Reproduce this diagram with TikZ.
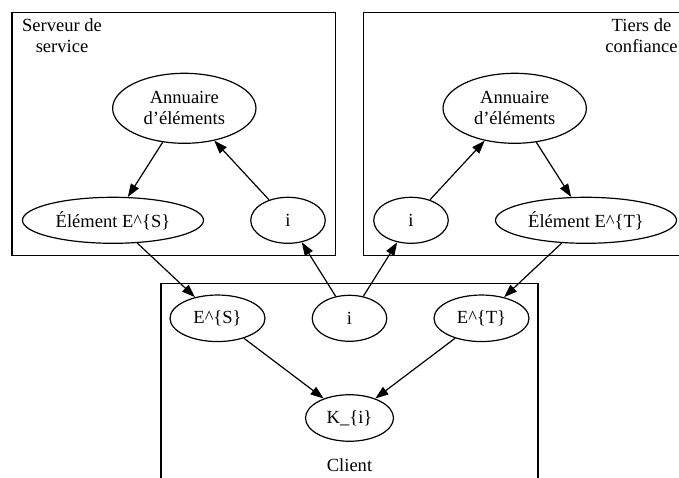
\documentclass[tikz,border=0pt]{standalone}
\usepackage{fontspec}
\setmainfont{Liberation Serif}
\usetikzlibrary{shapes.geometric,arrows.meta}
\begin{document}
\begin{tikzpicture}[x=0.75pt,y=-0.75pt,
  every node/.style={font=\fontsize{13.9}{15.75}\selectfont},
  lbl/.style={inner sep=0pt,align=center},
  elem/.style={draw,ellipse,line width=0.9pt,inner sep=0pt,align=center},
  big/.style={elem,minimum width=107.5pt,minimum height=52.5pt},
  wide/.style={elem,minimum width=135.75pt,minimum height=34.5pt},
  small/.style={elem,minimum width=55.9pt,minimum height=34.5pt},
  mid/.style={elem,minimum width=71.25pt,minimum height=34.9pt},
  cluster/.style={draw,line width=0.9pt},
  link/.style={line width=0.9pt,-{Triangle[length=9.9pt,width=6.9pt]}}]
\useasboundingbox (0,0) rectangle (679,478);
\clip (0,0) rectangle (679,478);

% clusters
\draw[cluster] (12,12.5) rectangle (335.7,255.7);
\draw[cluster] (363.3,12.5) rectangle (687,255.7);
\draw[cluster] (161,283.3) rectangle (538,500);

% cluster titles (base anchor sits on the last line)
\node[lbl,anchor=base] (tS) at (62,52.7) {Serveur de\\service};
\node[lbl,anchor=base] (tT) at (641.5,52.7) {Tiers de\\confiance};
\node[lbl,anchor=base] (tC) at (349.5,471.5) {Client};

% service server
\node[big] (annS) at (184.3,108.3) {Annuaire\\d’éléments};
\node[wide] (elS) at (113,220.3) {Élément E\textasciicircum\{S\}};
\node[small] (iS) at (288,220.3) {i};

% trusted third party
\node[big] (annT) at (514.7,108.3) {Annuaire\\d’éléments};
\node[small] (iT) at (411,220.3) {i};
\node[wide] (elT) at (586,220.3) {Élément E\textasciicircum\{T\}};

% client
\node[mid] (cES) at (217.5,318.3) {E\textasciicircum\{S\}};
\node[small] (ci) at (349.5,318.3) {i};
\node[mid] (cET) at (481.5,318.3) {E\textasciicircum\{T\}};
\node[elem,minimum width=66pt,minimum height=34.9pt] (K) at (349.5,418) {K\_\{i\}};

% connectors
\draw[link] (annS) -- (elS);
\draw[link] (iS) -- (annS);
\draw[link] (iT) -- (annT);
\draw[link] (annT) -- (elT);
\draw[link] (elS) -- (cES);
\draw[link] (elT) -- (cET);
\draw[link] (ci) -- (iS);
\draw[link] (ci) -- (iT);
\draw[link] (cES) -- (K);
\draw[link] (cET) -- (K);
\end{tikzpicture}
\end{document}
